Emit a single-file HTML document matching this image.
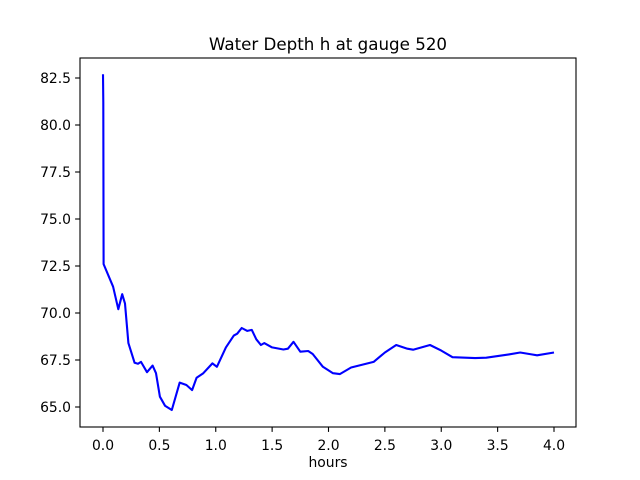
<!DOCTYPE html>
<html><head><meta charset="utf-8"><style>body{margin:0;background:#fff}svg{display:block;font-family:"DejaVu Sans","Liberation Sans",sans-serif}</style></head>
<body>
<svg id="c" width="640" height="480"></svg>
<script>
const times=[0,0.003,0.005,0.09,0.136,0.17,0.195,0.225,0.28,0.31,0.337,0.39,0.44,0.47,0.505,0.55,0.61,0.68,0.74,0.79,0.83,0.89,0.97,1.01,1.09,1.16,1.19,1.23,1.28,1.32,1.36,1.40,1.43,1.50,1.6,1.64,1.69,1.75,1.82,1.86,1.95,2.04,2.1,2.2,2.4,2.5,2.6,2.7,2.75,2.9,3.0,3.1,3.3,3.4,3.6,3.7,3.8,3.85,4.0];
const depths=[82.7,81.2,72.6,71.4,70.2,71.0,70.5,68.4,67.35,67.3,67.4,66.85,67.2,66.8,65.55,65.07,64.84,66.3,66.17,65.9,66.56,66.8,67.32,67.14,68.17,68.8,68.9,69.2,69.05,69.1,68.6,68.3,68.4,68.17,68.06,68.1,68.47,67.94,67.98,67.82,67.14,66.8,66.75,67.1,67.4,67.9,68.3,68.1,68.05,68.3,68.0,67.65,67.6,67.62,67.8,67.9,67.8,67.75,67.9];
const xTicks=[0,0.5,1,1.5,2,2.5,3,3.5,4];
const yTicks=[65,67.5,70,72.5,75,77.5,80,82.5];
const L=80,R=576,T=58,B=427;
const xs=v=>103+v*112.75, ys=v=>78+(82.5-v)*18.8;
const svg=document.getElementById('c');const NS='http://www.w3.org/2000/svg';
function mk(t,a,txt){const e=document.createElementNS(NS,t);for(const k in a)e.setAttribute(k,a[k]);if(txt!==undefined)e.textContent=txt;svg.appendChild(e);return e;}
let p=mk('path',{d:'M'+times.map((t,i)=>xs(t).toFixed(1)+','+ys(depths[i]).toFixed(1)).join('L'),fill:'none',stroke:'#0000ff','stroke-width':2.1,'stroke-linejoin':'round'});


let f=mk('rect',{x:L,y:T,width:R-L,height:B-T,fill:'none',stroke:'#000','stroke-width':1.1});


xTicks.forEach(v=>{const x=xs(v);mk('line',{x1:x,x2:x,y1:B,y2:B+4.9,stroke:'#000','stroke-width':1.1});
let t=mk('text',{x:x,y:B+23,'font-size':13.9,'text-anchor':'middle'},v.toFixed(1));

});
yTicks.forEach(v=>{const y=ys(v);mk('line',{x1:L-4.9,x2:L,y1:y,y2:y,stroke:'#000','stroke-width':1.1});
let t=mk('text',{x:L-9,y:y+5,'font-size':13.9,'text-anchor':'end'},v.toFixed(1));

});
let xt=mk('text',{x:(L+R)/2,y:467,'font-size':13.9,'text-anchor':'middle'},'hours');


let ti=mk('text',{x:(L+R)/2,y:50,'font-size':16.7,'text-anchor':'middle'},'Water Depth h at gauge 520');


</script>
</body></html>
